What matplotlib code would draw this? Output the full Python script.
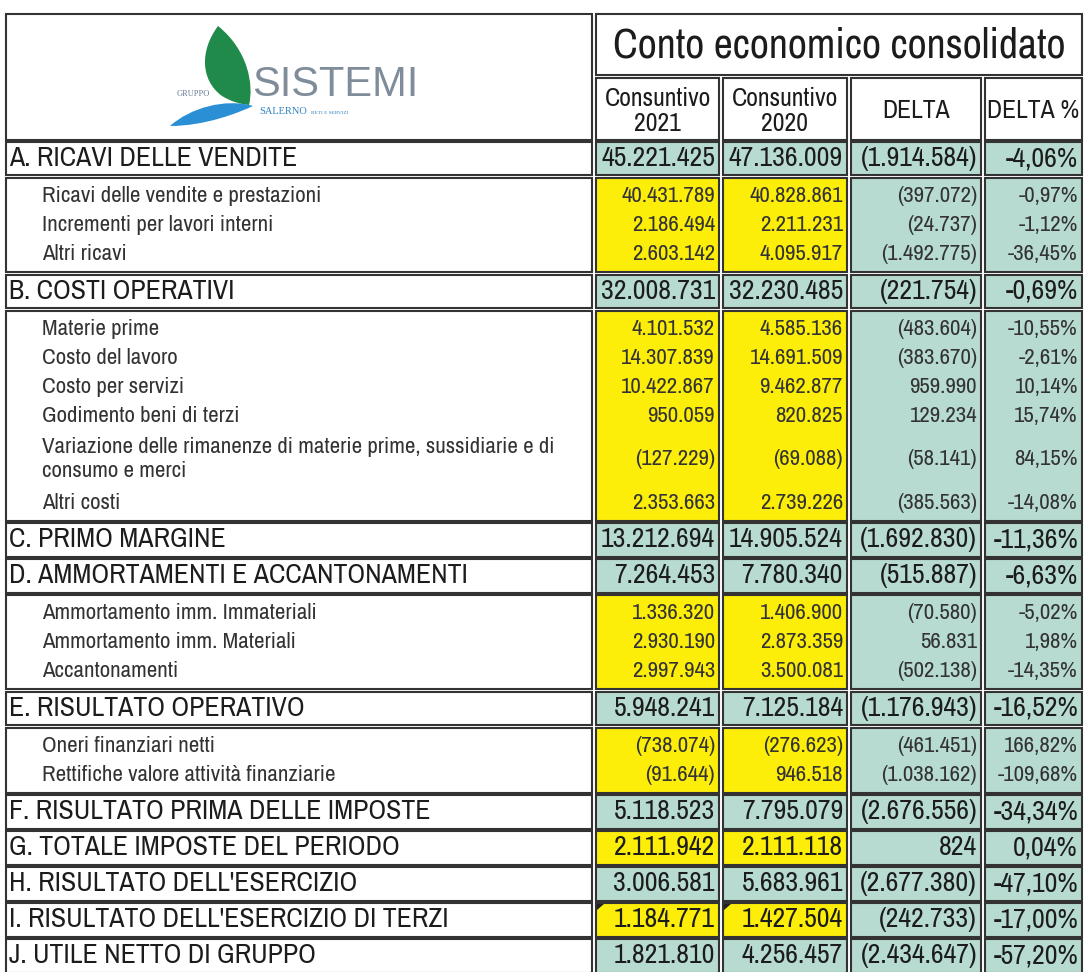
import matplotlib
matplotlib.use("Agg")
import matplotlib.pyplot as plt
from matplotlib.patches import Rectangle, PathPatch, Polygon
from matplotlib.path import Path

# ---- data ----
labels = [
    "A. RICAVI DELLE VENDITE",
    "Ricavi delle vendite e prestazioni",
    "Incrementi per lavori interni",
    "Altri ricavi",
    "B. COSTI OPERATIVI",
    "Materie prime",
    "Costo del lavoro",
    "Costo per servizi",
    "Godimento beni di terzi",
    "Variazione delle rimanenze di materie prime, sussidiarie e di\nconsumo e merci",
    "Altri costi",
    "C. PRIMO MARGINE",
    "D. AMMORTAMENTI E ACCANTONAMENTI",
    "Ammortamento imm. Immateriali",
    "Ammortamento imm. Materiali",
    "Accantonamenti",
    "E. RISULTATO OPERATIVO",
    "Oneri finanziari netti",
    "Rettifiche valore attività finanziarie",
    "F. RISULTATO PRIMA DELLE IMPOSTE",
    "G. TOTALE IMPOSTE DEL PERIODO",
    "H. RISULTATO DELL'ESERCIZIO",
    "I. RISULTATO DELL'ESERCIZIO DI TERZI",
    "J. UTILE NETTO DI GRUPPO",
]
is_main = [1, 0, 0, 0, 1, 0, 0, 0, 0, 0, 0, 1, 1, 0, 0, 0, 1, 0, 0, 1, 1, 1, 1, 1]
is_input = [0, 1, 1, 1, 0, 1, 1, 1, 1, 1, 1, 0, 0, 1, 1, 1, 0, 1, 1, 0, 1, 0, 1, 0]
cons_2021 = [45221425, 40431789, 2186494, 2603142, 32008731, 4101532, 14307839,
             10422867, 950059, -127229, 2353663, 13212694, 7264453, 1336320,
             2930190, 2997943, 5948241, -738074, -91644, 5118523, 2111942,
             3006581, 1184771, 1821810]
cons_2020 = [47136009, 40828861, 2211231, 4095917, 32230485, 4585136, 14691509,
             9462877, 820825, -69088, 2739226, 14905524, 7780340, 1406900,
             2873359, 3500081, 7125184, -276623, 946518, 7795079, 2111118,
             5683961, 1427504, 4256457]
delta = [-1914584, -397072, -24737, -1492775, -221754, -483604, -383670, 959990,
         129234, -58141, -385563, -1692830, -515887, -70580, 56831, -502138,
         -1176943, -461451, -1038162, -2676556, 824, -2677380, -242733, -2434647]
delta_pct = [-4.06, -0.97, -1.12, -36.45, -0.69, -10.55, -2.61, 10.14, 15.74,
             84.15, -14.08, -11.36, -6.63, -5.02, 1.98, -14.35, -16.52, 166.82,
             -109.68, -34.34, 0.04, -47.10, -17.00, -57.20]
col_headers = ["Consuntivo\n2021", "Consuntivo\n2020", "DELTA", "DELTA %"]
title = "Conto economico consolidato"

# ---- style ----
TEAL = "#b7dbd1"
YEL = "#fcee09"
EDGE = "#333333"
INK = "#1c1c1c"
SUB_INK = "#333333"
FONT = ["Archivo Narrow", "DejaVu Sans"]
SERIF = ["Liberation Serif", "DejaVu Serif"]

LAB_X = (6, 592)
COLS = [(596, 719), (723, 847), (851, 981), (985, 1082)]
TOP = 14
MAIN_H, PITCH, PAD, GAP = 33.5, 29, 3.5, 2.5


def fmt_num(v):
    s = f"{abs(v):,}".replace(",", ".")
    return f"({s})" if v < 0 else s


def fmt_pct(p):
    return f"{p:.2f}".replace(".", ",") + "%"


def box(x0, x1, y0, y1, fc="white", lw=1.5):
    ax.add_patch(Rectangle((x0, y0), x1 - x0, y1 - y0, fc=fc, ec=EDGE, lw=lw))


fig = plt.figure(figsize=(10.85, 9.72), dpi=100)
ax = fig.add_axes([0, 0, 1, 1])
ax.set_xlim(0, 1085)
ax.set_ylim(972, 0)
ax.axis("off")

# ---- header ----
box(LAB_X[0], LAB_X[1], TOP, 140)
box(COLS[0][0], COLS[3][1], TOP, 75)
ax.text((COLS[0][0] + COLS[3][1]) / 2, 45, title, ha="center", va="center",
        fontsize=30, color=INK, family=FONT)
for (x0, x1), h in zip(COLS, col_headers):
    box(x0, x1, 78, 140)
    ax.text((x0 + x1) / 2, 111, h, ha="center", va="center", fontsize=18.5,
            color=INK, family=FONT, linespacing=1.15)

# logo: leaf + wave + lettering
leaf = Path([(218, 26), (200, 50), (200, 80), (222, 96), (232, 102), (240, 104), (249, 105),
             (254, 85), (248, 50), (218, 26)],
            [Path.MOVETO, Path.CURVE4, Path.CURVE4, Path.CURVE4, Path.CURVE4, Path.CURVE4,
             Path.CURVE4, Path.CURVE4, Path.CURVE4, Path.CURVE4])
ax.add_patch(PathPatch(leaf, fc="#1f8a4a", ec="none"))
wave = Path([(170, 126), (190, 108), (225, 98), (253, 106), (238, 113), (205, 126), (170, 126)],
            [Path.MOVETO, Path.CURVE4, Path.CURVE4, Path.CURVE4, Path.CURVE4, Path.CURVE4,
             Path.CURVE4])
ax.add_patch(PathPatch(wave, fc="#2a8fd4", ec="none"))
ax.text(252, 96, "SISTEMI", ha="left", va="baseline", fontsize=30, color="#7f8d9b",
        family=["Liberation Sans", "DejaVu Sans"])
ax.text(177, 96, "GRUPPO", ha="left", va="baseline", fontsize=6, color="#6a7f95",
        family=SERIF)
ax.text(259, 114, "SALERNO", ha="left", va="baseline", fontsize=7.5, color="#2f82c2",
        family=SERIF)
ax.text(311, 114, "RETI E SERVIZI", ha="left", va="baseline", fontsize=3.8, color="#2f82c2",
        family=SERIF)

# ---- body: consecutive detail rows share one block ----
y = 142
i = 0
n = len(labels)
while i < n:
    if is_main[i]:
        rows = [i]
        y0, y1 = y, y + MAIN_H
        centers = [(y0 + y1) / 2]
        i += 1
    else:
        rows = []
        while i < n and not is_main[i]:
            rows.append(i)
            i += 1
        nlines = sum(labels[r].count("\n") + 1 for r in rows)
        y0, y1 = y, y + nlines * PITCH + 2 * PAD
        centers = []
        k = 0
        for r in rows:
            m = labels[r].count("\n") + 1
            centers.append(y0 + PAD + PITCH * (k + m / 2))
            k += m
    main = is_main[rows[0]]
    box(LAB_X[0], LAB_X[1], y0, y1)
    fcs = [YEL if is_input[rows[0]] else TEAL] * 2 + [TEAL, TEAL]
    for (x0, x1), fc in zip(COLS, fcs):
        box(x0, x1, y0, y1, fc=fc)
    for r, cy in zip(rows, centers):
        if main:
            ax.text(LAB_X[0] + 3, cy, labels[r], ha="left", va="center", fontsize=20,
                    color=INK, family=FONT)
        else:
            ax.text(42, cy, labels[r], ha="left", va="center", fontsize=16.5,
                    color=SUB_INK, family=FONT, linespacing=1.3)
        vals = [fmt_num(cons_2021[r]), fmt_num(cons_2020[r]), fmt_num(delta[r]),
                fmt_pct(delta_pct[r])]
        for (x0, x1), s in zip(COLS, vals):
            ax.text(x1 - 4, cy, s, ha="right", va="center",
                    fontsize=20 if main else 16.5, color=INK if main else SUB_INK,
                    family=FONT)
    if labels[rows[0]].startswith("I."):
        for x0, _ in COLS[:2]:
            ax.add_patch(Polygon([(x0 + 1, y0 + 1), (x0 + 8, y0 + 1), (x0 + 1, y0 + 7)],
                                 fc="#222222", ec="none"))
    y = y1 + GAP

fig.savefig("out.png", dpi=100)
